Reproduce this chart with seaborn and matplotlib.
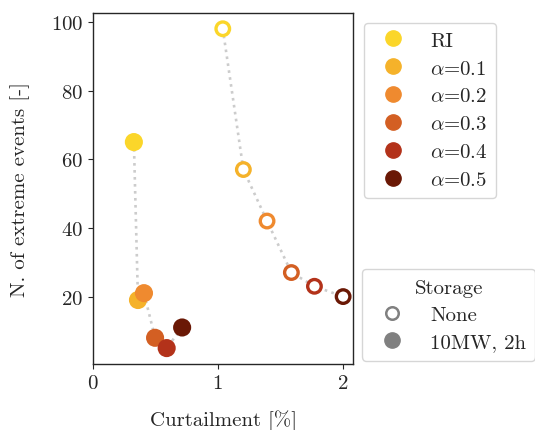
import matplotlib
matplotlib.use("Agg")
import matplotlib.pyplot as plt
from matplotlib.lines import Line2D
import seaborn as sns
import pandas as pd

# ---- data ----
labels = ["RI", r"$\alpha$=0.1", r"$\alpha$=0.2", r"$\alpha$=0.3", r"$\alpha$=0.4", r"$\alpha$=0.5"]
colors = ["#fbd62a", "#f5b22a", "#ef8a2f", "#d35f23", "#b3321a", "#6a1805"]
curt_none = [1.04, 1.205, 1.395, 1.59, 1.775, 2.005]
events_none = [98, 57, 42, 27, 23, 20]
curt_stor = [0.327, 0.36, 0.408, 0.497, 0.59, 0.714]
events_stor = [65, 19, 21, 8, 5, 11]
storage_labels = ["None", "10MW, 2h"]

sns.set_style("ticks")
plt.rcParams["font.family"] = "serif"
plt.rcParams["font.serif"] = ["cmr10", "DejaVu Serif"]
plt.rcParams["mathtext.fontset"] = "cm"
plt.rcParams["axes.formatter.use_mathtext"] = True
plt.rcParams["font.size"] = 15

df = pd.DataFrame({
    "curt": curt_none + curt_stor,
    "events": events_none + events_stor,
    "case": labels + labels,
    "storage": [storage_labels[0]] * 6 + [storage_labels[1]] * 6,
})

fig = plt.figure(figsize=(5.35, 4.31), dpi=100)
ax = fig.add_axes([0.174, 0.153, 0.486, 0.815])

sns.lineplot(data=df, x="curt", y="events", units="storage", estimator=None, sort=False,
             color="#cccccc", linestyle=":", linewidth=1.9, ax=ax, legend=False, zorder=1)

pal = dict(zip(labels, colors))
d_none = df[df["storage"] == storage_labels[0]]
d_stor = df[df["storage"] == storage_labels[1]]

sns.scatterplot(data=d_none, x="curt", y="events", hue="case", palette=pal, s=95,
                linewidth=2.4, ax=ax, legend=False, zorder=3)
coll = ax.collections[-1]
fc = coll.get_facecolors()
coll.set_edgecolors(fc)
coll.set_facecolors("white")
coll.set_linewidth(2.4)

sns.scatterplot(data=d_stor, x="curt", y="events", hue="case", palette=pal, s=170,
                linewidth=0, ax=ax, legend=False, zorder=3)

ax.set_xlim(0, 2.085)
ax.set_ylim(0.35, 102.65)
ax.set_xticks([0, 1, 2])
ax.set_yticks([20, 40, 60, 80, 100])
ax.set_xlabel("Curtailment [%]", labelpad=13)
ax.set_ylabel("N. of extreme events [-]", labelpad=15)
for s in ax.spines.values():
    s.set_linewidth(1.0)

h1 = [Line2D([], [], marker="o", linestyle="", markersize=11, markerfacecolor=c,
             markeredgecolor=c) for c in colors]
leg1 = ax.legend(h1, labels, loc="upper left", bbox_to_anchor=(1.04, 0.972),
                 frameon=True, borderaxespad=0.0, handletextpad=0.8, labelspacing=0.45)
ax.add_artist(leg1)

h2 = [Line2D([], [], marker="o", linestyle="", markersize=9, markerfacecolor="white",
             markeredgecolor="#808080", markeredgewidth=1.8),
      Line2D([], [], marker="o", linestyle="", markersize=11, markerfacecolor="#808080",
             markeredgecolor="#808080")]
leg2 = ax.legend(h2, storage_labels, title="Storage", loc="lower left",
                 bbox_to_anchor=(1.035, 0.01), frameon=True, borderaxespad=0.0,
                 handletextpad=0.8, labelspacing=0.42, borderpad=0.45, handlelength=2.0)

fig.savefig("out.png", dpi=100)
